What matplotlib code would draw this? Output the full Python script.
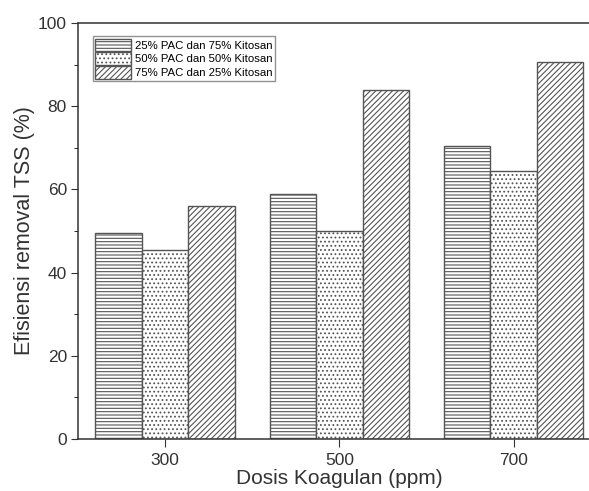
import numpy as np
import matplotlib
matplotlib.use('Agg')
from matplotlib import pyplot as plt
from matplotlib.ticker import MultipleLocator

plt.rcParams['font.family'] = ['Liberation Sans', 'DejaVu Sans']
plt.rcParams['hatch.linewidth'] = 0.8

doses = [300, 500, 700]
series = ['25% PAC dan 75% Kitosan', '50% PAC dan 50% Kitosan', '75% PAC dan 25% Kitosan']
pac25 = [49.5, 59.0, 70.5]
pac50 = [45.5, 50.0, 64.5]
pac75 = [56.0, 83.8, 90.6]

hatches = ['-----', '....', '//////']
values = [pac25, pac50, pac75]

fig = plt.figure(figsize=(5.89, 4.91), dpi=100)
ax = fig.add_axes([78/589, 1-439/491, 1-78/589+0.02, (439-23)/491])

w = 53.3
x = np.array(doses, dtype=float)
for i, (name, vals) in enumerate(zip(series, values)):
    ax.bar(x + (i-1)*w, vals, width=w, color='white', edgecolor='#555555',
           hatch=hatches[i], linewidth=1.0, label=name)

ax.set_xlim(200, 800)
ax.set_ylim(0, 100)
ax.set_xticks(doses)
ax.yaxis.set_major_locator(MultipleLocator(20))
ax.yaxis.set_minor_locator(MultipleLocator(10))
ax.tick_params(axis='both', direction='out', labelsize=12.5, colors='#333333')
ax.tick_params(axis='y', which='major', length=5, pad=3)
ax.tick_params(axis='y', which='minor', length=3)
ax.tick_params(axis='x', length=6, pad=4)
ax.spines['right'].set_visible(False)
for s in ['left', 'bottom', 'top']:
    ax.spines[s].set_color('#333333')
    ax.spines[s].set_linewidth(1.1)

ax.set_xlabel('Dosis Koagulan (ppm)', fontsize=15, color='#333333', labelpad=1)
ax.set_ylabel('Efisiensi removal TSS (%)', fontsize=15.5, color='#333333')
ax.yaxis.set_label_coords(-0.083, 0.5)

leg = ax.legend(loc='upper left', bbox_to_anchor=(0.028, 0.968), fontsize=8.2,
                frameon=True, fancybox=False, edgecolor='#777777',
                handlelength=3.2, handleheight=1.3, handletextpad=0.3,
                borderpad=0.2, labelspacing=0.12, borderaxespad=0)
leg.get_frame().set_linewidth(1.0)

fig.savefig('out.png', dpi=100)
